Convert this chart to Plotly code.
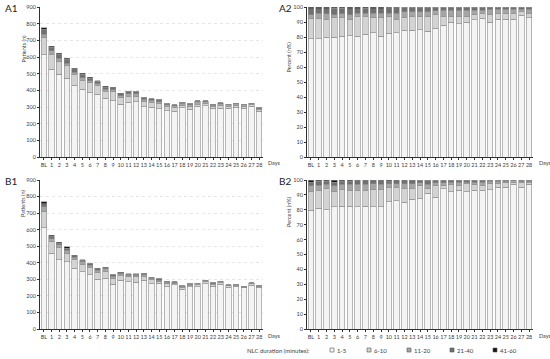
import plotly.graph_objects as go

days = ["BL"] + [str(i) for i in range(1, 29)]
categories = ["1-5", "6-10", "11-20", "21-40", "41-60"]
colors = ["#f4f4f4", "#d3d3d3", "#a5a5a5", "#707070", "#161616"]

# Panel A: total patients per day and percent split by NLC duration
a_total = [775, 665, 622, 592, 534, 502, 478, 458, 424, 420, 382, 396, 392, 357, 351,
           343, 321, 313, 329, 321, 337, 337, 317, 325, 317, 323, 317, 323, 295]
a_p1 = [79, 79, 80, 80, 80.5, 81, 80.5, 82, 83, 80.5, 82.5, 83, 84.5, 84.5, 85,
        84, 86, 88, 90, 89, 90, 91.5, 92.5, 90, 92, 92, 92, 94.5, 93]
a_p2 = [13.5, 13.5, 12, 13, 12.5, 11, 13, 12, 10, 12.5, 11, 9, 8.5, 9.5, 9,
        10, 9, 6, 4, 5, 4, 3.5, 3.5, 5, 4, 4, 4, 2.5, 3]
a_p3 = [2.5, 3.5, 3.5, 2, 2.5, 3, 2.5, 2, 3, 3, 2.5, 4, 4, 3, 3,
        3, 2.5, 4, 4, 4, 4, 3, 2, 3.5, 2.5, 2.5, 2.5, 1.5, 2.5]
a_p4 = [4, 3, 3.5, 4.2, 3.7, 4, 3, 3.2, 3, 3, 3.5, 3.5, 2.7, 2.7, 3,
        3, 2.5, 2, 2, 2, 2, 2, 2, 1.5, 1.5, 1.5, 1.5, 1.5, 1.5]
a_p5 = [1, 1, 1, 0.8, 0.8, 1, 1, 0.8, 1, 1, 0.5, 0.5, 0.3, 0.3, 0,
        0, 0, 0, 0, 0, 0, 0, 0, 0, 0, 0, 0, 0, 0]

# Panel B
b_total = [769, 566, 524, 496, 446, 418, 398, 366, 373, 329, 343, 333, 333, 337, 313,
           303, 289, 285, 261, 273, 277, 295, 279, 289, 267, 271, 257, 279, 261]
b_p1 = [79.7, 81, 80, 82, 82.4, 82.5, 82, 82.5, 82, 82, 85.5, 86, 85, 87, 87.5,
        91, 88.5, 94, 92, 93, 92, 93, 93, 93.5, 95, 95, 97, 95, 97]
b_p2 = [12.8, 12, 14, 10.5, 11.1, 10.5, 11, 10.5, 11.5, 11.5, 9.5, 9, 9.5, 7.5, 8.5,
        3.5, 7.5, 2, 5, 3.5, 5.5, 4, 3.5, 4, 2.5, 3, 1.5, 3, 1.5]
b_p3 = [3.5, 3.5, 3, 3.5, 3.5, 4, 4, 4, 4, 3.5, 2.5, 2.5, 3, 3, 2,
        2.5, 2, 2, 1.5, 2, 1, 1.5, 2, 1.5, 1.5, 1, 1, 1, 0.5]
b_p4 = [2.5, 2.5, 2, 2.5, 2, 2, 2.5, 2.5, 2, 2.5, 1.5, 2, 2, 2, 2,
        3, 2, 2, 1.5, 1.5, 1.5, 1.5, 1.5, 1, 1, 1, 0.5, 1, 1]
b_p5 = [1.5, 1, 1, 1.5, 1, 1, 0.5, 0.5, 0.5, 0.5, 1, 0.5, 0.5, 0.5, 0,
        0, 0, 0, 0, 0, 0, 0, 0, 0, 0, 0, 0, 0, 0]

a_pct = [a_p1, a_p2, a_p3, a_p4, a_p5]
b_pct = [b_p1, b_p2, b_p3, b_p4, b_p5]

fig = go.Figure()
FONT = "Lato"
TICKC = "#404040"
EDGE = "#8a8a8a"

def add_panel(pcts, totals, xa, ya, counts):
    for k, cat in enumerate(categories):
        if counts:
            vals = [t * p / 100 for t, p in zip(totals, pcts[k])]
        else:
            vals = pcts[k]
        fig.add_trace(go.Bar(
            x=days, y=vals, name=cat, xaxis=xa, yaxis=ya,
            marker=dict(color=colors[k], line=dict(color=EDGE, width=0.6)),
            showlegend=False))

add_panel(a_pct, a_total, "x", "y", True)
add_panel(a_pct, a_total, "x2", "y2", False)
add_panel(b_pct, b_total, "x3", "y3", True)
add_panel(b_pct, b_total, "x4", "y4", False)

W, H = 550, 359
def fx(px):
    return px / W
def fy(py):
    return (H - py) / H

xl = [fx(40), fx(263)]
xr = [fx(307), fx(533)]
yt = [fy(157), fy(7)]
yb = [fy(329), fy(180)]

xcommon = dict(type="category", range=[-0.5, 28.5], showline=True, linecolor="#303030",
               linewidth=1, ticks="outside", ticklen=2, tickcolor="#303030",
               tickmode="linear", dtick=1, tick0=0,
               tickfont=dict(size=5.5, color=TICKC, family=FONT), showgrid=False,
               tickangle=0, fixedrange=True, automargin=False)

def ycommon(rng, dtick, grid):
    return dict(range=rng, dtick=dtick, showline=True, linecolor="#303030", linewidth=1,
                ticks="outside", ticklen=2, tickcolor="#303030",
                tickfont=dict(size=5.5, color=TICKC, family=FONT),
                showgrid=grid, gridcolor="#e6e6e6", griddash="dot", gridwidth=0.6,
                zeroline=False, automargin=False)

fig.update_layout(
    width=W, height=H, margin=dict(l=0, r=0, t=0, b=0, autoexpand=False),
    paper_bgcolor="white", plot_bgcolor="white",
    barmode="stack", bargap=0.28, showlegend=False,
    font=dict(family=FONT, color=TICKC),
    xaxis=dict(domain=xl, anchor="y", **xcommon),
    yaxis=dict(domain=yt, anchor="x", **ycommon([0, 900], 100, True)),
    xaxis2=dict(domain=xr, anchor="y2", **xcommon),
    yaxis2=dict(domain=yt, anchor="x2", **ycommon([0, 100], 10, False)),
    xaxis3=dict(domain=xl, anchor="y3", **xcommon),
    yaxis3=dict(domain=yb, anchor="x3", **ycommon([0, 900], 100, True)),
    xaxis4=dict(domain=xr, anchor="y4", **xcommon),
    yaxis4=dict(domain=yb, anchor="x4", **ycommon([0, 100], 10, False)),
)

ann = []
shapes = []
for text, x, y in [("A1", 3, 8), ("A2", 277, 8), ("B1", 3, 181), ("B2", 277, 181)]:
    ann.append(dict(text=text, x=fx(x), y=fy(y), xref="paper", yref="paper", xanchor="left",
                    yanchor="middle", showarrow=False, font=dict(size=10, color="#222", family=FONT)))
for text, x, y in [("Patients (n)", 18, 34), ("Percent (n%)", 289, 40),
                   ("Patients (n)", 18, 204), ("Percent (n%)", 289, 212)]:
    ann.append(dict(text=text, x=fx(x), y=fy(y), xref="paper", yref="paper", textangle=-90,
                    showarrow=False, font=dict(size=5.5, color=TICKC, family=FONT)))
for x, y in [(266, 163), (537, 163), (266, 336), (537, 336)]:
    ann.append(dict(text="Days", x=fx(x), y=fy(y), xref="paper", yref="paper", xanchor="left",
                    yanchor="middle", showarrow=False, font=dict(size=5.5, color=TICKC, family=FONT)))

# legend drawn as shapes + text
ann.append(dict(text="NLC duration (minutes):", x=fx(245), y=fy(350), xref="paper", yref="paper",
                xanchor="left", yanchor="middle", showarrow=False,
                font=dict(size=6, color=TICKC, family=FONT)))
leg_x = [330, 367, 407, 450, 493]
for k, cat in enumerate(categories):
    x0 = leg_x[k]
    shapes.append(dict(type="rect", xref="paper", yref="paper", x0=fx(x0), x1=fx(x0 + 4),
                       y0=fy(352), y1=fy(348), fillcolor=colors[k],
                       line=dict(color="#555", width=0.6)))
    ann.append(dict(text=cat, x=fx(x0 + 5), y=fy(350), xref="paper", yref="paper",
                    xanchor="left", yanchor="middle", showarrow=False,
                    font=dict(size=6, color=TICKC, family=FONT)))

fig.update_layout(annotations=ann, shapes=shapes)

fig.write_html("out.html", config={"displayModeBar": False},
               post_script="document.body.style.margin='0';")
